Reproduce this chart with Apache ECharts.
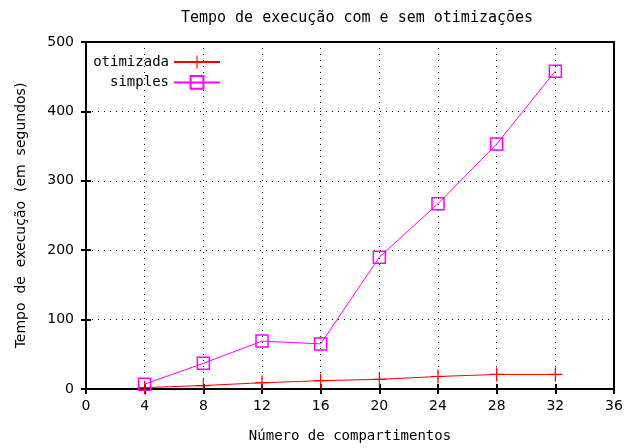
<!DOCTYPE html>
<html>
<head>
<meta charset="utf-8">
<script src="https://cdn.jsdelivr.net/npm/echarts@6/dist/echarts.min.js"></script>
<style>
  html, body { margin: 0; padding: 0; background: #fff; }
  #chart { width: 628px; height: 448px; }
</style>
</head>
<body>
<div id="chart"></div>
<script>
// Execution time (seconds) versus number of compartments
const compartments = [4, 8, 12, 16, 20, 24, 28, 32];
const optimizedTimes = [2, 5, 9, 12, 14, 18, 21, 21];
const simpleTimes = [7, 37, 69, 65, 190, 267, 353, 458];
const xTicks = { min: 0, max: 36, step: 4 };
const yTicks = { min: 0, max: 500, step: 100 };

const monoFont = '"DejaVu Sans Mono", monospace';
const sansFont = '"DejaVu Sans", sans-serif';

// plus-shaped marker built from two thin bars
const plusSymbol = 'path://M0,6.4H14V7.6H0ZM6.4,0H7.6V14H6.4Z';

const chart = echarts.init(document.getElementById('chart'), null, { renderer: 'canvas' });

const gridTickStyle = { show: true, inside: true, length: 5, lineStyle: { color: '#000', width: 2 } };
const dotted = { show: true, lineStyle: { color: '#000', width: 1, type: [1, 5] } };

chart.setOption({
  animation: false,
  backgroundColor: '#fff',
  title: {
    text: 'Tempo de execução com e sem otimizações',
    left: 352,
    top: 6,
    textAlign: 'center',
    textStyle: { fontFamily: monoFont, fontSize: 15, fontWeight: 'normal', color: '#000' }
  },
  legend: [
    {
      data: ['otimizada'],
      right: 402, top: 50, align: 'right',
      itemWidth: 46, itemHeight: 16,
      textStyle: { fontFamily: monoFont, fontSize: 14, color: '#000' }
    },
    {
      data: ['simples'],
      right: 402, top: 70, align: 'right',
      itemWidth: 46, itemHeight: 16,
      textStyle: { fontFamily: monoFont, fontSize: 14, color: '#000' }
    }
  ],
  grid: {
    left: 86, right: 14, top: 42, bottom: 58,
    show: true, borderColor: '#000', borderWidth: 2, backgroundColor: 'transparent'
  },
  xAxis: [
    {
      type: 'value', min: xTicks.min, max: xTicks.max, interval: xTicks.step,
      name: 'Número de compartimentos', nameLocation: 'middle', nameGap: 40,
      nameTextStyle: { fontFamily: monoFont, fontSize: 14, color: '#000' },
      axisLine: { show: false },
      axisTick: gridTickStyle,
      axisLabel: { margin: 10, fontFamily: sansFont, fontSize: 14, color: '#000' },
      splitLine: dotted
    },
    {
      type: 'value', position: 'top', min: xTicks.min, max: xTicks.max, interval: xTicks.step,
      axisLine: { show: false }, axisTick: gridTickStyle,
      axisLabel: { show: false }, splitLine: { show: false }
    }
  ],
  yAxis: [
    {
      type: 'value', min: yTicks.min, max: yTicks.max, interval: yTicks.step,
      name: 'Tempo  de  execução  (em  segundos)', nameLocation: 'middle', nameGap: 58,
      nameTextStyle: { fontFamily: sansFont, fontSize: 14, color: '#000' },
      axisLine: { show: false },
      axisTick: gridTickStyle,
      axisLabel: { margin: 12, fontFamily: sansFont, fontSize: 14, color: '#000' },
      splitLine: dotted
    },
    {
      type: 'value', position: 'right', min: yTicks.min, max: yTicks.max, interval: yTicks.step,
      axisLine: { show: false }, axisTick: gridTickStyle,
      axisLabel: { show: false }, splitLine: { show: false }
    }
  ],
  series: [
    {
      name: 'otimizada', type: 'line',
      data: compartments.map((c, i) => [c, optimizedTimes[i]]),
      symbol: plusSymbol, symbolSize: 14, showAllSymbol: true,
      itemStyle: { color: '#ff0000' },
      lineStyle: { color: '#ff0000', width: 1 },
      z: 3
    },
    {
      name: 'simples', type: 'line',
      data: compartments.map((c, i) => [c, simpleTimes[i]]),
      symbol: 'rect', symbolSize: 12, showAllSymbol: true,
      itemStyle: { color: 'rgba(0,0,0,0)', borderColor: '#ff00ff', borderWidth: 1.5 },
      lineStyle: { color: '#ff00ff', width: 1 },
      z: 4
    }
  ]
});
</script>
</body>
</html>
